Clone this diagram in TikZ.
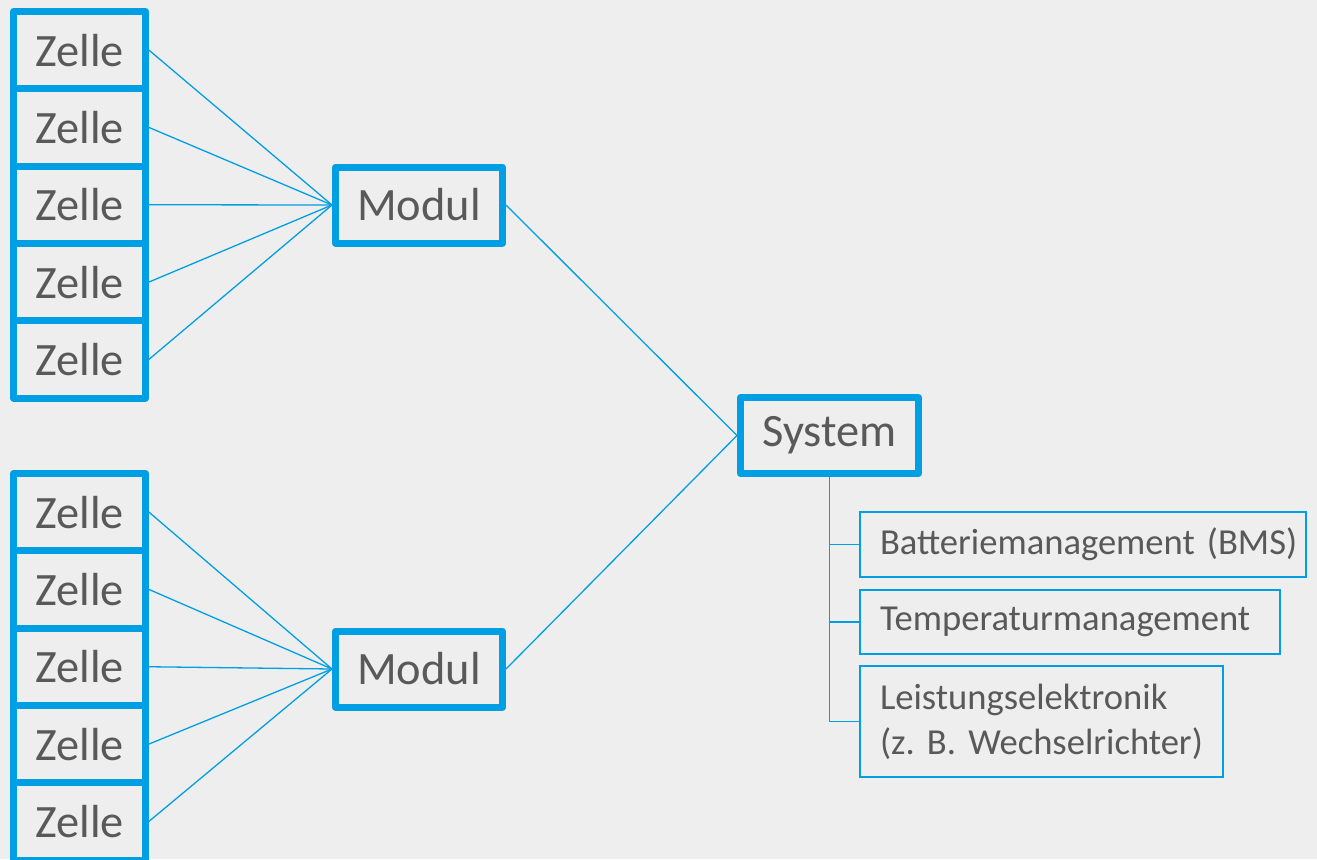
\documentclass[tikz,border=0pt]{standalone}
\usepackage{fontspec}
\setmainfont{Carlito}[WordSpace=0.7]
\frenchspacing
\usepackage{tikz}
\definecolor{zblau}{HTML}{009FE3}
\definecolor{zgrau}{HTML}{595959}
\definecolor{zhinter}{HTML}{EEEEEE}

\begin{document}
\begin{tikzpicture}[x=0.5pt,y=0.5pt,node distance=38.65pt,
                    every node/.style={text=zgrau}]
  \tikzstyle{zelle}=[draw=zblau,line width=3.5pt,line join=round,inner sep=0pt,
                     minimum width=66pt,minimum height=38.65pt,
                     font=\fontsize{23.2}{27}\selectfont]
  \tikzstyle{modul}=[zelle,minimum width=83.5pt,minimum height=38pt]
  \tikzstyle{teil}=[draw=zblau,line width=1pt,anchor=west,align=left,
                    inner xsep=10pt,inner ysep=0pt,
                    font=\fontsize{18.3}{22.5}\selectfont]
  \tikzstyle{linie}=[draw=zblau,line width=0.65pt]

  \clip (0,0) rectangle (1317,859);
  \fill[zhinter] (0,0) rectangle (1317,859);

  % obere Zellen
  \node[zelle] (z1) at (79.5,808.85) {Zelle};
  \node[zelle] (z2) [below of=z1] {Zelle};
  \node[zelle] (z3) [below of=z2] {Zelle};
  \node[zelle] (z4) [below of=z3] {Zelle};
  \node[zelle] (z5) [below of=z4] {Zelle};

  % untere Zellen
  \node[zelle] (y1) at (79.5,346.85) {Zelle};
  \node[zelle] (y2) [below of=y1] {Zelle};
  \node[zelle] (y3) [below of=y2] {Zelle};
  \node[zelle] (y4) [below of=y3] {Zelle};
  \node[zelle] (y5) [below of=y4] {Zelle};

  \node[modul] (m1) at (419,654) {Modul};
  \node[modul] (m2) at (419,190) {Modul};
  \node[modul,minimum width=89pt] (sys) at (829.5,423.5) {System};

  \node[teil,text width=203pt,minimum height=32.5pt] (bms) at (859,314.5)
       {\mbox{Batteriemanagement (BMS)}};
  \node[teil,text width=190pt,minimum height=32pt] (temp) at (859,237)
       {Temperaturmanagement};
  \node[teil,text width=161.5pt,minimum height=55.5pt] (leist) at (859,137.5)
       {Leistungselektronik\\(z. B. Wechselrichter)};

  \path[linie] (z1.east) edge (m1.west)
               (z2.east) edge (m1.west)
               (z3.east) edge (m1.west)
               (z4.east) edge (m1.west)
               (z5.east) edge (m1.west)
               (y1.east) edge (m2.west)
               (y2.east) edge (m2.west)
               (y3.east) edge (m2.west)
               (y4.east) edge (m2.west)
               (y5.east) edge (m2.west)
               (m1.east) edge (sys.west)
               (m2.east) edge (sys.west);

  \draw[linie] (sys.south) |- (bms.west)
               (sys.south) |- (temp.west)
               (sys.south) |- (leist.west);
\end{tikzpicture}
\end{document}
